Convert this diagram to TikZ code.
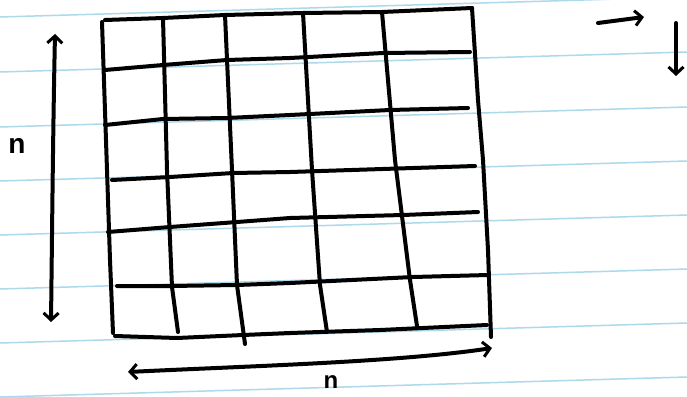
\documentclass[tikz,border=0pt]{standalone}
\usepackage{fontspec}
\setmainfont{Liberation Sans}
\usetikzlibrary{arrows.meta}
\definecolor{ruled}{RGB}{172,218,236}
\tikzset{
  ink/.style={line width=4pt, line cap=round, line join=round, black},
  ruleline/.style={line width=1.5pt, ruled},
  barb/.style={ink, arrows={-Straight Barb[length=7pt,width=15pt,line width=3pt]}},
  barbs/.style={ink, arrows={Straight Barb[length=7pt,width=15pt,line width=3pt]-Straight Barb[length=7pt,width=15pt,line width=3pt]}},
  lbl/.style={inner sep=0pt, font=\fontsize{28}{28}\selectfont\bfseries}
}
\begin{document}
\begin{tikzpicture}[x=1pt,y=-1pt]
\useasboundingbox[fill=white] (0,0) rectangle (687,396);
% ruled paper lines
\foreach \y in {17,72,127,181,235,289,343,397}
  \draw[ruleline] (0,\y) -- (687,\y-20);
% outer border
\draw[ink] (105,20) -- (163,18) -- (225,15) -- (303,13) -- (382,12) -- (472,8);
\draw[ink] (102,22) -- (107,170) -- (110,260) -- (113,333);
\draw[ink] (472,8) -- (478,100) -- (483,160) -- (488,250) -- (491,337);
\draw[ink] (115,336) -- (177,338) -- (243,335) -- (290,333) -- (380,330) -- (487,325);
% vertical inner lines
\draw[ink] (163,18) -- (167,170) -- (172,287) -- (178,332);
\draw[ink] (225,15) -- (232,170) -- (237,285) -- (245,344);
\draw[ink] (303,13) -- (312,170) -- (320,285) -- (327,332);
\draw[ink] (382,12) -- (395,160) -- (410,280) -- (417,326);
% horizontal inner lines
\draw[ink] (105,70) -- (163,65) -- (227,60) -- (290,58) -- (383,53) -- (470,52);
\draw[ink] (105,125) -- (163,119) -- (227,118) -- (290,115) -- (390,110) -- (468,108);
\draw[ink] (112,180) -- (170,177) -- (233,173) -- (290,172) -- (475,166);
\draw[ink] (108,232) -- (170,227) -- (237,222) -- (290,218) -- (403,215) -- (478,212);
\draw[ink] (117,286) -- (170,286) -- (237,285) -- (290,283) -- (413,277) -- (488,275);
% dimension arrows
\coordinate (vt) at (55,34);
\coordinate (vb) at (51,322);
\coordinate (hl) at (128,372);
\coordinate (hr) at (492,348);
\draw[barbs] (vt) .. controls (53,130) and (52,240) .. (vb);
\draw[barbs] (hl) .. controls (250,366) and (400,362) .. (hr);
\node[lbl] (nleft) at (17,146) {n};
\node[lbl, font=\fontsize{24}{24}\selectfont\bfseries] (nbottom) at (331,382) {n};
% direction arrows top right
\coordinate (ra) at (598,23);
\coordinate (rb) at (644,17);
\coordinate (da) at (676,23);
\coordinate (db) at (676,76);
\draw[barb] (ra) -- (rb);
\draw[barb] (da) -- (db);
\end{tikzpicture}
\end{document}
